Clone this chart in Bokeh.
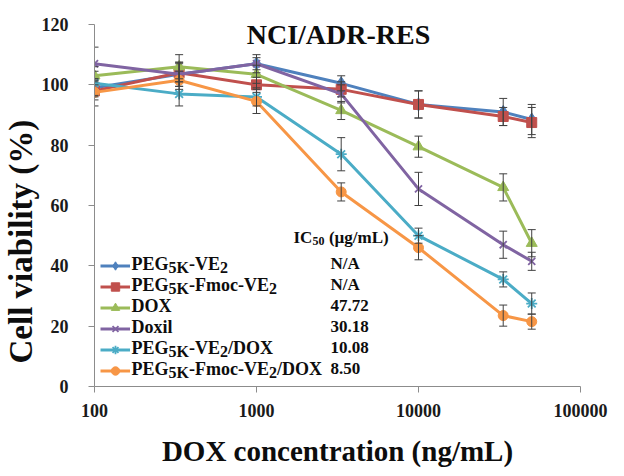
import math
from bokeh.plotting import figure
from bokeh.models import (Range1d, FixedTicker, Label, Legend, LegendItem, Title,
                          ColumnDataSource, Whisker, TeeHead)
from bokeh.embed import file_html
from bokeh.resources import INLINE

# ---------------- data ----------------
conc = [100, 333, 1000, 3333, 10000, 33333, 50000]

peg_ve = [99.0, 103.5, 107.0, 100.5, 93.5, 91.0, 88.5]
peg_ve_err = [3.0, 4.0, 2.0, 2.5, 4.5, 4.5, 5.0]

peg_fmoc_ve = [98.0, 104.0, 100.0, 98.5, 93.5, 89.5, 87.5]
peg_fmoc_ve_err = [3.0, 3.0, 2.5, 2.5, 4.5, 3.0, 5.0]

dox = [103.0, 106.0, 103.5, 91.5, 79.5, 66.0, 47.5]
dox_err = [3.0, 4.0, 3.0, 3.0, 3.5, 4.5, 4.5]

doxil = [107.0, 103.5, 107.0, 97.0, 65.5, 47.0, 41.5]
doxil_err = [5.5, 4.0, 3.0, 3.0, 5.5, 4.5, 3.0]

peg_ve_dox = [100.5, 97.0, 96.0, 77.0, 50.0, 35.5, 27.5]
peg_ve_dox_err = [4.0, 4.0, 3.0, 5.5, 2.5, 2.5, 3.5]

peg_fmoc_ve_dox = [97.5, 101.5, 94.5, 64.5, 46.0, 23.5, 21.5]
peg_fmoc_ve_dox_err = [4.5, 3.0, 4.0, 3.0, 4.0, 3.5, 2.5]

ic50_values = ["N/A", "N/A", "47.72", "30.18", "10.08", "8.50"]

# legend labels as (text, is_subscript) pieces
label_parts = [
    [("PEG", 0), ("5K", 1), ("-VE", 0), ("2", 1)],
    [("PEG", 0), ("5K", 1), ("-Fmoc-VE", 0), ("2", 1)],
    [("DOX", 0)],
    [("Doxil", 0)],
    [("PEG", 0), ("5K", 1), ("-VE", 0), ("2", 1), ("/DOX", 0)],
    [("PEG", 0), ("5K", 1), ("-Fmoc-VE", 0), ("2", 1), ("/DOX", 0)],
]

x_ticks = [100, 1000, 10000, 100000]
y_ticks = [0, 20, 40, 60, 80, 100, 120]

# ---------------- styling ----------------
values = [peg_ve, peg_fmoc_ve, dox, doxil, peg_ve_dox, peg_fmoc_ve_dox]
errors = [peg_ve_err, peg_fmoc_ve_err, dox_err, doxil_err, peg_ve_dox_err, peg_fmoc_ve_dox_err]
colors = ["#4F81BD", "#C0504D", "#9BBB59", "#8064A2", "#4BACC6", "#F79646"]
markers = ["diamond", "square", "triangle", "x", "asterisk", "circle"]
msizes = [13, 10, 11, 10, 11, 10]
FONT = "Liberation Serif"
AXIS_GREY = "#8c8c8c"
TXT = "#0d0d0d"

# Times-bold widths (per 1000 em) for text layout
W = {"P": 611, "E": 667, "G": 778, "K": 778, "5": 500, "2": 500, "-": 333, "V": 722,
     "F": 611, "m": 833, "o": 500, "c": 444, "/": 278, "D": 722, "O": 778, "X": 722,
     "x": 500, "i": 278, "l": 278, "I": 389, "C": 722, "0": 500, " ": 250, "(": 333,
     "µ": 556, "g": 500, "L": 667, ")": 333}


def tw(s, size):
    return sum(W.get(ch, 500) for ch in s) * size / 1000.0


p = figure(width=624, height=476, x_axis_type="log",
           x_range=Range1d(100, 100000), y_range=Range1d(0, 120),
           output_backend="svg", toolbar_location=None,
           min_border_left=94, min_border_right=44,
           min_border_top=24, min_border_bottom=90)
p.frame_width = 486
p.frame_height = 362
p.outline_line_color = None
p.grid.visible = False
p.background_fill_color = "white"
p.border_fill_color = "white"

legend_items = []
for vals, errs, col, mk, ms in zip(values, errors, colors, markers, msizes):
    src = ColumnDataSource(dict(x=conc, y=vals,
                                upper=[v + e for v, e in zip(vals, errs)],
                                lower=[v - e for v, e in zip(vals, errs)]))
    lr = p.line("x", "y", source=src, line_color=col, line_width=3)
    wk = Whisker(source=src, base="x", upper="upper", lower="lower", dimension="height",
                 line_color="#404040", line_width=1, level="glyph",
                 upper_head=TeeHead(size=8, line_color="#404040", line_width=1),
                 lower_head=TeeHead(size=8, line_color="#404040", line_width=1))
    p.add_layout(wk)
    lw = 1.8 if mk in ("x", "asterisk") else 1
    sr = p.scatter("x", "y", source=src, marker=mk, size=ms, fill_color=col,
                   line_color=col, line_width=lw)
    legend_items.append(LegendItem(label=" ", renderers=[lr, sr]))

legend = Legend(items=legend_items, location=(6, 5), padding=0, spacing=0,
                glyph_width=30, glyph_height=21, label_height=21, label_width=1,
                label_standoff=0, border_line_color=None, background_fill_alpha=0,
                label_text_font_size="2px")
p.add_layout(legend)

# axes
for ax in (p.xaxis, p.yaxis):
    ax.axis_line_color = AXIS_GREY
    ax.major_tick_line_color = AXIS_GREY
    ax.minor_tick_line_color = None
    ax.major_tick_in = 0
    ax.major_tick_out = 6
    ax.major_label_text_font = FONT
    ax.major_label_text_font_style = "bold"
    ax.major_label_text_font_size = "18px"
    ax.major_label_text_color = "#1a1a1a"
    ax.axis_label_text_font = FONT
    ax.axis_label_text_font_style = "bold"
    ax.axis_label_text_color = TXT

p.xaxis.ticker = FixedTicker(ticks=x_ticks)
p.xaxis.major_label_overrides = {t: str(t) for t in x_ticks}
p.xaxis.major_label_standoff = 11
p.xaxis.axis_label = "DOX concentration (ng/mL)"
p.xaxis.axis_label_text_font_size = "29px"
p.xaxis.axis_label_standoff = 15

p.yaxis.ticker = FixedTicker(ticks=y_ticks)
p.yaxis.major_label_standoff = 20

# y axis label: a title in the left panel, starting near the bottom of the frame
p.add_layout(Title(text="Cell viability (%)", align="left", offset=23,
                   vertical_align="bottom", standoff=0,
                   text_font=FONT, text_font_style="bold", text_font_size="33px",
                   text_color=TXT), "left")

LIFT = 8  # correction so the text baselines land where intended

# title
p.add_layout(Label(x=244, y=344 + LIFT, x_units="screen", y_units="screen",
                   text="NCI/ADR-RES", text_align="center", text_baseline="alphabetic",
                   text_font=FONT, text_font_style="bold", text_font_size="28px",
                   text_color=TXT))

# legend texts with subscripts
MAIN, SUB, VAL = 18, 16, 17
FRAME_BOTTOM_PAGE = 386
for i, parts in enumerate(label_parts):
    base_page = 271 + 21 * i
    xpos = 37.0
    for txt, sub in parts:
        size = SUB if sub else MAIN
        yb = FRAME_BOTTOM_PAGE - base_page - (4 if sub else 0) + LIFT
        p.add_layout(Label(x=xpos, y=yb, x_units="screen", y_units="screen",
                           text=txt, text_align="left", text_baseline="alphabetic",
                           text_font=FONT, text_font_style="bold",
                           text_font_size=f"{size}px", text_color=TXT))
        xpos += tw(txt, size)
    p.add_layout(Label(x=236, y=FRAME_BOTTOM_PAGE - base_page + LIFT,
                       x_units="screen", y_units="screen",
                       text=ic50_values[i], text_align="left", text_baseline="alphabetic",
                       text_font=FONT, text_font_style="bold",
                       text_font_size=f"{VAL}px", text_color=TXT))

# IC50 header (the gap before the bracket is added as an x offset)
hx = 199.0
hy = FRAME_BOTTOM_PAGE - 245 + LIFT
for txt, size, dy, gap in [("IC", 17, 0, 0), ("50", 12, -3, 0), ("(µg/mL)", 17, 0, 4.5)]:
    hx += gap
    p.add_layout(Label(x=hx, y=hy + dy, x_units="screen", y_units="screen",
                       text=txt, text_align="left", text_baseline="alphabetic",
                       text_font=FONT, text_font_style="bold",
                       text_font_size=f"{size}px", text_color=TXT))
    hx += tw(txt, size)

open("out.html", "w").write(file_html(p, INLINE))
